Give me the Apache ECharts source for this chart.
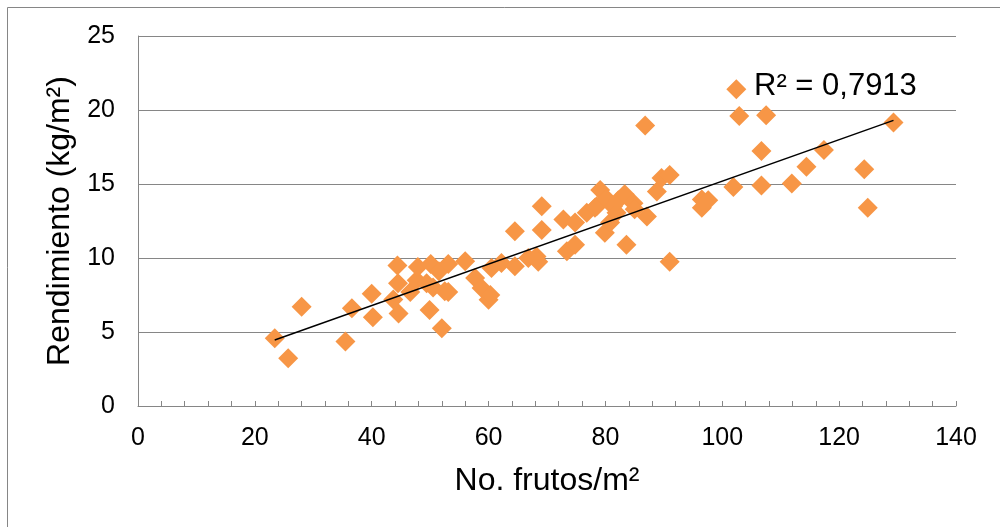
<!DOCTYPE html>
<html><head><meta charset="utf-8">
<script src="https://cdn.jsdelivr.net/npm/echarts@6/dist/echarts.min.js"></script>
<style>html,body{margin:0;padding:0;background:#fff}#c{width:1000px;height:527px}</style>
</head><body><div id="c"></div>
<script>
// No. frutos/m2 (x) and Rendimiento kg/m2 (y)
const frutos = [23.4, 25.7, 28.0, 35.5, 36.6, 40.0, 40.2, 43.7, 44.4, 44.5, 44.6, 46.6, 47.7, 47.9, 49.4,
  49.9, 50.1, 50.5, 51.5, 52.0, 52.5, 53.1, 53.1, 56.0, 57.7, 58.8, 60.0, 60.3, 60.5, 62.2,
  64.5, 64.5, 66.8, 68.2, 68.5, 69.1, 69.1, 72.8, 73.4, 74.8, 74.8, 76.8, 78.2, 78.5, 79.1,
  79.9, 80.2, 80.8, 81.3, 81.9, 82.2, 83.3, 83.6, 84.8, 85.0, 87.1, 86.8, 88.8, 89.6, 91.0,
  91.0, 96.5, 96.5, 97.6, 101.9, 102.4, 102.9, 106.7, 106.7, 107.5, 111.9, 114.4, 117.4,
  124.3, 124.9, 129.3];
const rendimiento = [4.57, 3.22, 6.71, 4.35, 6.60, 7.58, 6.00, 7.20, 9.50, 8.30, 6.25, 7.70, 8.50, 9.40, 8.30,
  6.49, 9.60, 8.00, 9.10, 5.25, 7.75, 7.70, 9.60, 9.78, 8.65, 7.97, 7.18, 7.50, 9.33, 9.67,
  9.44, 11.80, 10.00, 10.10, 9.75, 11.90, 13.50, 12.60, 10.45, 10.90, 12.40, 13.05, 13.40, 13.50, 14.60,
  11.70, 14.00, 12.40, 13.50, 13.05, 13.90, 14.30, 10.90, 13.70, 13.30, 12.80, 18.95, 14.50, 15.40, 15.60,
  9.75, 13.96, 13.40, 13.90, 14.80, 21.40, 19.60, 17.23, 14.90, 19.65, 15.04, 16.17, 17.30,
  16.00, 13.40, 19.15];
// Linear trend line end points
const trendX = [23.4, 129.3];
const trendY = [4.46, 19.3];
const r2Text = 'R² = 0,7913';
const xTitle = 'No. frutos/m²';
const yTitle = 'Rendimiento (kg/m²)';

const FONT = 'Liberation Sans, Arial, sans-serif';
const GRAY = '#868686';
const chart = echarts.init(document.getElementById('c'), null, {renderer: 'canvas'});
chart.setOption({
  backgroundColor: '#fff',
  animation: false,
  grid: {left: 138, top: 36, right: 44, bottom: 121, containLabel: false},
  xAxis: {
    type: 'value', min: 0, max: 140, interval: 20,
    name: xTitle, nameLocation: 'middle', nameGap: 59,
    nameTextStyle: {fontFamily: FONT, fontSize: 32, color: '#000'},
    axisLine: {show: true, lineStyle: {color: GRAY, width: 1}},
    axisTick: {show: true, inside: true, length: 5, lineStyle: {color: GRAY, width: 1}},
    minorTick: {show: true, splitNumber: 5, length: 5, lineStyle: {color: GRAY, width: 1}},
    axisLabel: {fontFamily: FONT, fontSize: 25, color: '#000', margin: 20},
    splitLine: {show: false}
  },
  yAxis: {
    type: 'value', min: 0, max: 25, interval: 5,
    name: yTitle, nameLocation: 'middle', nameGap: 62,
    nameTextStyle: {fontFamily: FONT, fontSize: 32, color: '#000'},
    axisLine: {show: true, lineStyle: {color: GRAY, width: 1}},
    axisTick: {show: false},
    axisLabel: {fontFamily: FONT, fontSize: 25, color: '#000', margin: 23},
    splitLine: {show: true, lineStyle: {color: GRAY, width: 1}}
  },
  series: [
    {
      type: 'scatter', symbol: 'diamond', symbolSize: 20,
      itemStyle: {color: '#F79646', opacity: 1},
      data: frutos.map((x, i) => [x, rendimiento[i]]),
      z: 2
    },
    {
      type: 'line', symbol: 'none', silent: true,
      lineStyle: {color: '#000', width: 1.5},
      data: trendX.map((x, i) => [x, trendY[i]]),
      z: 3
    }
  ],
  graphic: [
    {type: 'rect', shape: {x: 7.5, y: 7.5, width: 1100, height: 700},
     style: {fill: 'none', stroke: GRAY, lineWidth: 1}, z: -1, silent: true},
    {type: 'text', x: 754, y: 86,
     style: {text: r2Text, font: '31px ' + FONT, fill: '#000', align: 'left', verticalAlign: 'middle'}, z: 10}
  ]
});
</script></body></html>
